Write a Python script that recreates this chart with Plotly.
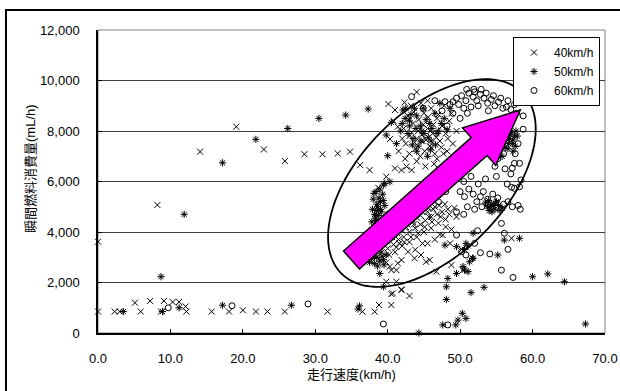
import math
import plotly.graph_objects as go

# ---------------- data ----------------
X_TICKS = [0, 10, 20, 30, 40, 50, 60, 70]
Y_TICKS = [0, 2000, 4000, 6000, 8000, 10000, 12000]
SERIES_NAMES = ["40km/h", "50km/h", "60km/h"]
X_TITLE = "走行速度(km/h)"
Y_TITLE = "瞬間燃料消費量(mL/h)"

s40_x = [0.0, 2.3, 3.0, 5.1, 5.9, 7.2, 8.7, 9.1, 10.3, 11.2, 12.1, 12.2, 15.7, 18.1, 20.0, 21.8, 23.4, 25.8, 31.7,
         0.0, 8.2, 14.1, 19.1, 22.9, 25.8, 28.5, 31.0, 33.1, 34.8, 36.2, 37.5,
         40.1, 42.3, 44.0, 41.0, 40.3, 41.4, 41.0, 41.9, 42.6, 43.3, 39.8, 38.7,
         42.8, 43.5, 44.2, 43.0, 44.8, 45.5, 46.2, 45.0, 46.8, 47.5, 43.8, 44.5, 45.8, 46.5, 47.2, 48.0,
         48.5, 47.8, 46.0, 42.5, 44.0, 45.2, 46.8, 48.2, 49.0, 49.5, 48.8, 45.5, 41.5, 40.8, 43.2, 47.0, 48.5,
         42.2, 42.9, 43.6, 44.3, 44.9, 45.6, 46.3, 47.0, 43.3, 44.0, 44.7, 45.3, 46.0, 46.7, 47.4, 43.7, 45.1,
         42.0, 44.6, 45.9, 47.7, 48.3, 46.4, 43.0, 42.4,
         38.5, 39.2, 40.0, 40.8, 41.5, 42.2, 43.0, 43.8, 44.5, 45.2, 46.0, 46.8, 47.5, 48.3,
         41.0, 42.0, 43.0, 44.0, 45.0, 46.0, 47.0, 48.0, 42.5, 43.5, 44.5, 45.5, 46.5, 40.5, 41.8,
         39.8, 43.8, 45.5, 47.2, 48.8, 49.5,
         39.0, 39.8, 40.6, 41.3, 42.0, 42.7, 43.4, 44.1, 44.8, 45.6, 46.3, 47.1, 47.9, 40.2, 41.2, 42.3, 43.2,
         44.2, 45.1, 46.1, 47.3, 48.5, 49.2, 41.6, 43.6, 45.7, 44.8, 46.5, 48.0,
         40.3, 41.4, 41.9, 42.8, 43.7, 44.6, 45.3, 45.8, 39.8, 41.2, 40.5, 41.2, 40.7, 41.9, 43.0,
         38.2, 38.8, 40.5, 40.5, 41.9, 46.7, 48.8, 50.4, 47.6, 48.6, 50.2, 57.1, 36.5]
s40_y = [850, 850, 850, 1200, 850, 1270, 850, 1270, 1230, 1230, 1050, 850, 850, 850, 900, 850, 850, 850, 850,
         3615, 5070, 7180, 8170, 7270, 6810, 7080, 7080, 7110, 7180, 6650, 6450,
         9070, 9130, 9540, 8830, 7680, 8170, 6520, 6450, 6590, 6450, 6190, 5750,
         8600, 8300, 8000, 7800, 7600, 8100, 7900, 8700, 8500, 8200, 7300, 7000, 7400, 7100, 7600, 7900,
         8400, 9000, 8900, 7500, 6800, 6600, 6900, 7200, 7500, 8000, 8700, 9200, 7200, 8400, 9000, 6500, 6300,
         8100, 8450, 8750, 8450, 8250, 8550, 8250, 8650, 7950, 7700, 7850, 7650, 7350, 7750, 7350, 7550, 7200,
         7700, 9100, 8000, 7100, 7700, 6700, 7100, 6900,
         3000, 3200, 3350, 3500, 3700, 3800, 4000, 4150, 4300, 4450, 4600, 4700, 4800, 4900,
         3200, 3450, 3600, 3800, 4000, 4150, 4350, 4500, 4200, 4400, 4650, 4800, 5000, 3900, 4100,
         2800, 3300, 3550, 3900, 4100, 4600,
         3500, 3650, 3800, 3950, 4050, 4300, 4500, 4550, 4800, 4950, 4900, 5050, 5100, 3100, 3400, 3600, 3800,
         3950, 4200, 4400, 4600, 4700, 4950, 3550, 4300, 4600, 3550, 3700, 4200,
         2630, 2760, 2890, 3220, 2960, 3090, 2820, 2890, 2030, 2030, 2490, 2490, 1570, 1700, 1470,
         845, 1110, 1110, 1540, 1730, 2430, 2690, 2490, 3880, 3550, 3310, 3750, 845]

s50_x = [3.5, 8.9, 11.2, 17.2, 26.7, 35.9, 8.7, 11.9, 17.2, 21.8, 26.2, 30.5, 34.2, 37.3, 40.0, 39.8, 42.1, 40.5,
         38.4, 39.4, 40.3, 39.6, 38.1, 38.0, 38.5, 39.0, 38.2, 39.3, 38.6, 39.6, 38.9, 37.8, 39.9, 39.0, 38.3, 39.5,
         38.8, 39.2, 38.4, 39.7, 38.7, 39.1, 38.5, 39.6, 38.8, 39.3, 38.2, 39.9, 38.9, 39.1, 37.9, 38.6, 39.4, 38.0,
         37.6, 38.0, 38.5, 38.9, 37.2, 39.5, 38.2, 36.8, 38.7, 39.8,
         37.8, 38.3, 37.5, 38.8, 39.2, 37.0, 38.6, 39.0, 37.9, 36.6, 38.1, 39.4,
         42.5, 43.0, 44.0, 44.5, 43.5, 45.0, 45.8, 46.5, 42.8, 44.2, 46.0, 47.0, 47.8, 45.5, 44.0, 43.0, 41.8,
         42.4, 43.2, 43.9, 44.7, 45.3, 46.1, 46.8, 47.4, 43.4, 44.6, 45.9, 46.6, 48.2, 48.6, 47.2, 44.9, 42.0,
         43.7, 45.6, 41.2,
         38.9, 39.4, 44.3, 48.1, 48.1, 47.6, 49.4, 49.7, 50.3, 50.8, 51.5, 53.3, 64.4, 67.3, 60.0, 62.1,
         55.2, 56.1, 58.2, 51.8, 51.7, 50.6, 51.1, 50.4, 50.6, 51.1, 49.5, 48.3, 51.3, 51.8, 47.9, 49.5, 50.8, 36.1,
         56.4, 56.8, 57.2, 57.0, 57.5, 56.6, 57.3, 57.7, 56.0, 55.8, 56.9, 57.3, 56.7, 57.6, 56.2, 57.9,
         53.8, 54.3, 54.8, 55.3, 55.8, 54.0, 55.0, 54.6, 53.5, 54.1, 54.9, 55.5, 53.9, 54.4]
s50_y = [850, 850, 1000, 1100, 1100, 950, 2230, 4700, 6740, 7670, 8100, 8500, 8630, 8870, 7020, 7840, 8830, 8340,
         5600, 5860, 5990, 5930, 5530, 5300, 5100, 4900, 4700, 4500, 4300, 4100, 4000, 4400, 4700, 5200, 4550, 4250,
         4150, 4350, 4450, 4550, 4650, 4800, 4850, 5050, 5350, 5500, 4200, 4400, 5700, 3900, 4900, 5000, 5250, 4050,
         3400, 3200, 3000, 2850, 3100, 2700, 2750, 3300, 3450, 3100,
         2950, 3350, 2800, 3250, 3050, 2900, 2650, 3400, 3550, 3050, 3050, 2900,
         8900, 8400, 8600, 8200, 7700, 7900, 8300, 8700, 7900, 7400, 7600, 8000, 8500, 7000, 7200, 8200, 8000,
         8500, 8650, 8100, 8000, 8450, 8100, 7900, 8300, 7450, 7600, 7250, 7450, 8050, 8900, 9100, 8900, 8300,
         8900, 7750, 7500,
         2360, 1830, 0, 1830, 1330, 320, 320, 510, 780, 580, 1600, 1810, 2030, 360, 2230, 2340,
         3090, 3680, 3750, 3950, 2960, 3310, 3450, 2630, 2490, 2430, 2360, 2160, 2820, 2960, 3480, 3420, 3550, 1070,
         7900, 7700, 7500, 7950, 7800, 7300, 7200, 8000, 7600, 7000, 7850, 7650, 7500, 7400, 7350, 7800,
         5000, 5100, 4900, 5050, 4950, 4850, 5200, 5050, 5150, 4950, 5150, 4850, 5250, 4800]

s60_x = [9.7, 18.5, 29.0, 39.4, 48.3, 43.3, 44.9, 47.9, 49.0, 51.9, 52.9,
         49.5, 50.2, 50.8, 51.2, 51.8, 52.3, 52.8, 53.3, 53.8, 54.3, 54.8, 55.3, 55.9, 56.4, 57.0, 57.8, 58.7,
         50.5, 51.5, 49.0, 50.0, 48.2, 47.5, 46.5,
         48.6, 50.9, 52.0, 53.6, 54.6, 55.6, 56.6, 57.5, 49.8, 51.0, 52.5, 53.9,
         58.7, 57.5, 58.2, 58.4, 57.1, 57.5, 58.2, 55.5, 56.0, 55.2, 54.8, 56.2, 55.0, 57.0, 56.5, 58.0, 57.6, 57.2,
         50.0, 50.6, 51.2, 51.8, 52.3, 52.8, 53.2, 53.8, 54.5, 55.2, 56.0, 56.6, 57.2, 58.0, 58.3, 51.0, 52.0, 53.0,
         49.5, 50.5, 50.5, 51.5, 52.5, 53.5,
         55.7, 52.4, 56.1, 56.6, 52.8, 54.1, 55.7, 57.3, 49.5, 50.2, 50.8, 52.0, 47.0, 48.0, 48.8]
s60_y = [1000, 1080, 1150, 356, 320, 9360, 8900, 9160, 9160, 9650, 9650,
         9300, 9400, 9200, 9500, 9350, 9200, 9450, 9300, 9100, 9250, 9000, 9150, 8900, 8950, 8850, 8700, 8600,
         8900, 8950, 8700, 8500, 8200, 8800, 9200,
         9050, 9650, 9550, 9500, 9400, 9300, 9200, 9050, 9050, 8700, 9000, 8800,
         8070, 6720, 6720, 6060, 5770, 5730, 5790, 7400, 7100, 6900, 6600, 6500, 6200, 6300, 5900, 7500, 7100, 6530,
         5600, 5400, 5700, 5500, 5200, 5400, 5600, 5300, 5500, 5350, 5100, 5200, 5000, 5050, 4900, 5000, 4900, 5000,
         4800, 4700, 6000, 6200, 5900, 6100,
         4340, 4050, 3950, 3310, 3180, 3130, 2490, 2200, 3880, 3220, 3090, 3550, 5200, 5600, 6000]

# annotation geometry (data units / pixels)
ELLIPSE_CENTER = (46.1, 5940)
ELLIPSE_AXES_PX = (128, 72)
ELLIPSE_ANGLE_DEG = 45
ARROW_TAIL = (35.0, 2890)
ARROW_TIP = (58.3, 8830)
ARROW_SHAFT_HALF_PX = 12
ARROW_HEAD_HALF_PX = 25
ARROW_HEAD_LEN_PX = 55

# ---------------- layout geometry ----------------
W, H = 620, 391
ML, MR, MT, MB = 98, 15, 30, 58
PW, PH = W - ML - MR, H - MT - MB
XMAX, YMAX = 70, 12000
KX = PW / XMAX      # px per x unit
KY = PH / YMAX      # px per y unit

FONT = "Liberation Sans, Arial, Noto Sans CJK JP, sans-serif"


def d2p(x, y):
    return x * KX, -y * KY  # pixel-like coords, y downward


def p2d(px, py):
    return px / KX, -py / KY


def path_from(points, close=True):
    s = "M " + " L ".join(f"{x:.4f},{y:.4f}" for x, y in points)
    return s + (" Z" if close else "")


def pxpaper_x(px):
    return (px - ML) / PW


def pxpaper_y(py):
    return (H - MB - py) / PH


# ellipse path
cx, cy = d2p(*ELLIPSE_CENTER)
a, b = ELLIPSE_AXES_PX
th = math.radians(ELLIPSE_ANGLE_DEG)
ell = []
for i in range(120):
    t = 2 * math.pi * i / 120
    ex = a * math.cos(t)
    ey = b * math.sin(t)
    px = cx + ex * math.cos(th) + ey * math.sin(th)
    py = cy - ex * math.sin(th) + ey * math.cos(th)
    ell.append(p2d(px, py))

# arrow path
tx, ty = d2p(*ARROW_TAIL)
hx, hy = d2p(*ARROW_TIP)
L = math.hypot(hx - tx, hy - ty)
ux, uy = (hx - tx) / L, (hy - ty) / L
nx, ny = -uy, ux
bx, by = hx - ux * ARROW_HEAD_LEN_PX, hy - uy * ARROW_HEAD_LEN_PX
sw, hw = ARROW_SHAFT_HALF_PX, ARROW_HEAD_HALF_PX
arrow_px = [
    (tx + nx * sw, ty + ny * sw),
    (bx + nx * sw, by + ny * sw),
    (bx + nx * hw, by + ny * hw),
    (hx, hy),
    (bx - nx * hw, by - ny * hw),
    (bx - nx * sw, by - ny * sw),
    (tx - nx * sw, ty - ny * sw),
]
arrow = [p2d(*p) for p in arrow_px]

# outer frame: only left and top edges are inside the picture
frame = [(pxpaper_x(6), pxpaper_y(400)), (pxpaper_x(6), pxpaper_y(10)), (pxpaper_x(630), pxpaper_y(10))]

fig = go.Figure()
for xs, ys, name, sym in [
    (s40_x, s40_y, SERIES_NAMES[0], "x-thin-open"),
    (s50_x, s50_y, SERIES_NAMES[1], "asterisk-open"),
    (s60_x, s60_y, SERIES_NAMES[2], "circle-open"),
]:
    fig.add_trace(go.Scatter(
        x=xs, y=ys, mode="markers", name=name,
        marker=dict(symbol=sym, size=6, color="black", line=dict(width=1, color="black")),
        cliponaxis=False,
    ))

shapes = [
    dict(type="rect", xref="paper", yref="paper", x0=0, x1=1, y0=0, y1=1,
         line=dict(color="#808080", width=1), layer="below"),
    dict(type="path", xref="x", yref="y", path=path_from(ell),
         line=dict(color="black", width=1.8), fillcolor="rgba(0,0,0,0)"),
    dict(type="path", xref="x", yref="y", path=path_from(arrow),
         line=dict(color="black", width=1.5), fillcolor="#FF00FF"),
    dict(type="path", xref="paper", yref="paper", path=path_from(frame, close=False),
         line=dict(color="black", width=2)),
]

annotations = [
    dict(text=Y_TITLE, xref="paper", yref="paper", x=pxpaper_x(30), y=pxpaper_y(169),
         xanchor="center", yanchor="middle", textangle=-90, showarrow=False,
         font=dict(family=FONT, size=13, color="black")),
]

fig.update_layout(
    width=W, height=H,
    margin=dict(l=ML, r=MR, t=MT, b=MB, pad=0, autoexpand=False),
    paper_bgcolor="white", plot_bgcolor="white",
    font=dict(family=FONT, size=13, color="black"),
    shapes=shapes,
    annotations=annotations,
    showlegend=True,
    legend=dict(
        x=pxpaper_x(600), y=pxpaper_y(37), xanchor="right", yanchor="top",
        bgcolor="white", bordercolor="black", borderwidth=1,
        font=dict(family=FONT, size=12, color="black"),
        itemwidth=30, tracegroupgap=0,
    ),
    xaxis=dict(
        range=[0, XMAX], tickvals=X_TICKS, tickformat=".1f",
        ticks="inside", ticklen=4, tickcolor="black",
        showline=True, linecolor="black", linewidth=1.5,
        showgrid=False, zeroline=False, automargin=False,
        ticklabelstandoff=13,
        tickfont=dict(size=13),
        title=dict(text=X_TITLE, font=dict(size=13), standoff=5),
    ),
    yaxis=dict(
        range=[0, YMAX], tickvals=Y_TICKS, tickformat=",d",
        ticks="inside", ticklen=4, tickcolor="black",
        showline=True, linecolor="black", linewidth=1.5,
        showgrid=True, gridcolor="#404040", gridwidth=1,
        zeroline=False, automargin=False,
        ticklabelstandoff=14,
        tickfont=dict(size=13),
    ),
)

fig.write_html(
    "out.html",
    config={"displayModeBar": False},
    post_script="document.body.style.margin='0px';document.body.style.overflow='hidden';",
)
